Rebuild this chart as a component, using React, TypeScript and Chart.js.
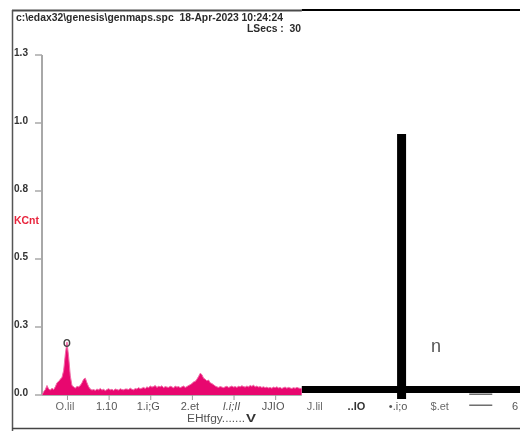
import React, { useEffect, useRef } from "react";
import { Chart, registerables } from "chart.js";

Chart.register(...registerables);

// ---- data ----
const titleText = "c:\\edax32\\genesis\\genmaps.spc  18-Apr-2023 10:24:24";
const liveSecsText = "LSecs :  30";
const yAxisTitle = "KCnt";
const xAxisTitle = "EHtfgy.......";
const xAxisUnit = "V";
const peakLabel = "O";
const peakEnergy = 0.5;
const peakValue = 0.19;
const noteText = "n";

const yTickValues = [0, 0.25, 0.5, 0.75, 1.0, 1.25];
const yTickLabels = ["0.0", "0.3", "0.5", "0.8", "1.0", "1.3"];

const xTickValues = [0.5, 1.0, 1.5, 2.0, 2.5, 3.0, 3.5, 4.0, 4.5, 5.0, 5.5, 6.0];
const xTickLabels = ["O.lil", "1.10", "1.i;G", "2.et", "I.i;II", "JJIO", "J.lil", "..IO", "•.i;o", "$.et", "—\n—", "6"];

const specStart = 0.2; // keV, first channel
const specStep = 0.02; // keV per channel
const specCounts = [
  0.0, 0.012, 0.02, 0.035, 0.022, 0.018, 0.025, 0.02, 0.03, 0.045,
  0.05, 0.058, 0.065, 0.09, 0.15, 0.195, 0.14, 0.07, 0.035, 0.03,
  0.025, 0.032, 0.03, 0.035, 0.045, 0.058, 0.062, 0.045, 0.03, 0.022,
  0.018, 0.02, 0.017, 0.022, 0.019, 0.024, 0.018, 0.021, 0.016, 0.02,
  0.023, 0.019, 0.021, 0.017, 0.022, 0.02, 0.018, 0.023, 0.02, 0.019,
  0.022, 0.022, 0.02, 0.025, 0.021, 0.019, 0.024, 0.022, 0.027, 0.023,
  0.025, 0.028, 0.024, 0.03, 0.027, 0.033, 0.029, 0.031, 0.035, 0.028,
  0.032, 0.03, 0.034, 0.027, 0.031, 0.029, 0.028, 0.032, 0.03, 0.026,
  0.033, 0.029, 0.031, 0.027, 0.03, 0.033, 0.028, 0.031, 0.035, 0.038,
  0.042, 0.048, 0.05, 0.058, 0.068, 0.08, 0.075, 0.062, 0.058, 0.052,
  0.055, 0.045, 0.042, 0.038, 0.033, 0.03, 0.028, 0.031, 0.029, 0.027,
  0.03, 0.032, 0.028, 0.03, 0.033, 0.029, 0.031, 0.028, 0.032, 0.03,
  0.034, 0.031, 0.029, 0.033, 0.03, 0.035, 0.032, 0.036, 0.03, 0.033,
  0.029, 0.031, 0.028, 0.03, 0.027, 0.029, 0.026, 0.028, 0.025, 0.029,
  0.027, 0.03, 0.026, 0.028, 0.024, 0.027, 0.029, 0.025, 0.028, 0.026,
  0.024, 0.027, 0.025, 0.028, 0.026, 0.024, 0.025,
];

// thick black marker lines (keV, KCnt)
const hBarX = [3.32, 5.94];
const hBarY = [0.02, 0.02];
const vBarX = [4.518, 4.518];
const vBarY = [0.96, -0.015];

function fitText(ctx: CanvasRenderingContext2D, text: string, x: number, y: number, w: number, font: string, color: string) {
  ctx.save();
  ctx.font = font;
  ctx.fillStyle = color;
  ctx.textBaseline = "middle";
  ctx.textAlign = "left";
  const m = ctx.measureText(text).width || 1;
  ctx.translate(x, y);
  ctx.scale(w / m, 1);
  ctx.fillText(text, 0, 0);
  ctx.restore();
}

const decorPlugin = {
  id: "decor",
  beforeDatasetsDraw(chart: any) {
    const ctx: CanvasRenderingContext2D = chart.ctx;
    const xs = chart.scales.x;
    const ys = chart.scales.y;
    ctx.save();
    // frame
    ctx.lineWidth = 2;
    ctx.strokeStyle = "#4a4a4a";
    ctx.beginPath();
    ctx.moveTo(12, 10.5);
    ctx.lineTo(xs.getPixelForValue(hBarX[0]), 10.5);
    ctx.stroke();
    ctx.strokeStyle = "#000";
    ctx.beginPath();
    ctx.moveTo(xs.getPixelForValue(hBarX[0]), 10);
    ctx.lineTo(520, 10);
    ctx.stroke();
    ctx.lineWidth = 1.5;
    ctx.strokeStyle = "#555";
    ctx.beginPath();
    ctx.moveTo(12.5, 10);
    ctx.lineTo(12.5, 431);
    ctx.stroke();
    ctx.strokeStyle = "#444";
    ctx.beginPath();
    ctx.moveTo(12, 428.5);
    ctx.lineTo(520, 428.5);
    ctx.stroke();

    // y axis
    const y0 = ys.getPixelForValue(0);
    const yTop = ys.getPixelForValue(yTickValues[yTickValues.length - 1]);
    const xL = xs.left;
    ctx.strokeStyle = "#a8a8a8";
    ctx.lineWidth = 2;
    ctx.beginPath();
    ctx.moveTo(xL, yTop);
    ctx.lineTo(xL, y0);
    ctx.stroke();
    ctx.lineWidth = 1.5;
    yTickValues.forEach((v) => {
      const py = ys.getPixelForValue(v);
      ctx.beginPath();
      ctx.moveTo(xL - 7, py);
      ctx.lineTo(xL, py);
      ctx.stroke();
    });
    // x axis
    const xEnd = xs.getPixelForValue(hBarX[0]);
    ctx.strokeStyle = "#b0b0b0";
    ctx.lineWidth = 1;
    ctx.beginPath();
    ctx.moveTo(xL, y0 + 0.5);
    ctx.lineTo(xEnd, y0 + 0.5);
    ctx.stroke();
    ctx.strokeStyle = "#999";
    xTickValues.forEach((v) => {
      const px = xs.getPixelForValue(v);
      if (px > xEnd) return;
      ctx.beginPath();
      ctx.moveTo(px + 0.5, y0);
      ctx.lineTo(px + 0.5, y0 + 5);
      ctx.stroke();
    });
    ctx.restore();
  },
  afterDatasetsDraw(chart: any) {
    const ctx: CanvasRenderingContext2D = chart.ctx;
    const xs = chart.scales.x;
    const ys = chart.scales.y;
    // header
    fitText(ctx, titleText, 16, 18, 267, "bold 10px 'Liberation Sans', Arial, sans-serif", "#2b2b2b");
    fitText(ctx, liveSecsText, 247, 29, 54, "bold 10px 'Liberation Sans', Arial, sans-serif", "#2b2b2b");
    // y labels
    yTickValues.forEach((v, i) => {
      const py = ys.getPixelForValue(v);
      fitText(ctx, yTickLabels[i], 14, py - 1.5, 14, "bold 10px 'Liberation Sans', Arial, sans-serif", "#333");
    });
    fitText(ctx, yAxisTitle, 14, 221, 25, "bold 10px 'Liberation Sans', Arial, sans-serif", "#e8243c");
    // x labels
    const y0 = ys.getPixelForValue(0);
    ctx.save();
    ctx.textAlign = "center";
    ctx.textBaseline = "middle";
    xTickValues.forEach((v, i) => {
      let px = xs.getPixelForValue(v);
      const lab = xTickLabels[i];
      ctx.save();
      ctx.fillStyle = "#555";
      ctx.font = "11px 'Liberation Sans', Arial, sans-serif";
      if (lab === "I.i;II") ctx.font = "italic 11px 'Liberation Sans', Arial, sans-serif";
      if (lab === "..IO") { ctx.font = "bold 11px 'Liberation Sans', Arial, sans-serif"; ctx.fillStyle = "#333"; }
      if (lab === "J.lil" || lab === "$.et" || lab === "O.lil") ctx.fillStyle = "#6a6a6a";
      if (lab.indexOf("\n") >= 0) {
        const lines = lab.split("\n");
        ctx.fillStyle = "#6f6f6f";
        ctx.font = "22px 'Liberation Sans', Arial, sans-serif";
        lines.forEach((ln, k) => {
          fitText(ctx, ln, px - 14, y0 - 1.5 + k * 11.3, 23, "22px 'Liberation Sans', Arial, sans-serif", "#6f6f6f");
        });
      } else {
        if (px > 520) px = 517;
        ctx.fillText(lab, px - 2, y0 + 12);
      }
      ctx.restore();
    });
    ctx.restore();
    fitText(ctx, xAxisTitle, 187, y0 + 24, 58, "10px 'Liberation Sans', Arial, sans-serif", "#555");
    fitText(ctx, xAxisUnit, 246, y0 + 24, 10, "bold 11px 'Liberation Sans', Arial, sans-serif", "#333");
    // peak label
    ctx.save();
    ctx.font = "bold 10px 'Liberation Sans', Arial, sans-serif";
    ctx.fillStyle = "#444";
    ctx.textAlign = "center";
    ctx.textBaseline = "middle";
    ctx.fillText(peakLabel, xs.getPixelForValue(peakEnergy), ys.getPixelForValue(peakValue) + 1);
    // note
    ctx.font = "18px 'Liberation Sans', Arial, sans-serif";
    ctx.fillStyle = "#555";
    ctx.fillText(noteText, 436, 347);
    ctx.restore();
  },
};

export default function App() {
  const ref = useRef<HTMLCanvasElement | null>(null);
  useEffect(() => {
    if (!ref.current) return;
    const spectrum = specCounts.map((c, i) => ({ x: specStart + specStep * i, y: c }));
    const chart = new Chart(ref.current, {
      type: "line",
      data: {
        datasets: [
          {
            data: spectrum,
            borderColor: "#f06aa6",
            borderWidth: 1,
            backgroundColor: "#e8076f",
            fill: "origin",
            pointRadius: 0,
            tension: 0,
          },
          {
            data: hBarX.map((x, i) => ({ x, y: hBarY[i] })),
            borderColor: "#000",
            borderWidth: 7,
            borderCapStyle: "butt",
            pointRadius: 0,
            fill: false,
            clip: false as any,
          },
          {
            data: vBarX.map((x, i) => ({ x, y: vBarY[i] })),
            borderColor: "#000",
            borderWidth: 9,
            borderCapStyle: "butt",
            pointRadius: 0,
            fill: false,
            clip: false as any,
          },
        ],
      },
      options: {
        animation: false,
        responsive: false,
        maintainAspectRatio: false,
        layout: { padding: { left: 42, top: 55, right: 0, bottom: 36 } },
        plugins: { legend: { display: false }, tooltip: { enabled: false } },
        scales: {
          x: { type: "linear", min: 0.2, max: 5.94, display: false },
          y: { type: "linear", min: 0, max: 1.25, display: false },
        },
      },
      plugins: [decorPlugin],
    });
    return () => chart.destroy();
  }, []);
  return (
    <div style={{ position: "fixed", left: 0, top: 0, width: 520, height: 431, background: "#fff" }}>
      <canvas ref={ref} width={520} height={431} style={{ display: "block" }} />
    </div>
  );
}
